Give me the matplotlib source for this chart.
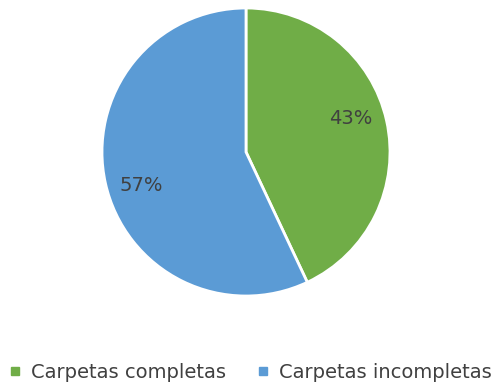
import numpy as np
import matplotlib.pyplot as plt
from matplotlib.lines import Line2D

categories = ["Carpetas completas", "Carpetas incompletas"]
values = [43, 57]
colors = ["#70AD47", "#5B9BD5"]

fig = plt.figure(figsize=(4.93, 3.88), dpi=100)
ax = fig.add_axes([(246 - 144) / 493, 1 - (152 + 144) / 388, 288 / 493, 288 / 388])

wedges, texts, autotexts = ax.pie(
    values,
    colors=colors,
    startangle=90,
    counterclock=False,
    autopct="%d%%",
    pctdistance=0.76,
    wedgeprops=dict(edgecolor="white", linewidth=2),
    textprops=dict(color="#404040", fontsize=14),
)

# place the percentage labels slightly rotated from the wedge centre
for w, t in zip(wedges, autotexts):
    ang = np.deg2rad((w.theta1 + w.theta2) / 2 + 5)
    t.set_position((0.76 * np.cos(ang), 0.76 * np.sin(ang)))

ax.set_xlim(-1, 1)
ax.set_ylim(-1, 1)
ax.set_aspect("equal")

handles = [
    Line2D([0], [0], marker="s", linestyle="", markersize=6,
           markerfacecolor=c, markeredgecolor=c)
    for c in colors
]
fig.legend(
    handles, categories,
    loc="center", bbox_to_anchor=(0.5 + 3 / 493, 1 - 372 / 388),
    ncol=2, frameon=False, fontsize=14, labelcolor="#404040",
    handlelength=0.8, handletextpad=0.4, columnspacing=1.5,
)

fig.savefig("out.png", dpi=100)
